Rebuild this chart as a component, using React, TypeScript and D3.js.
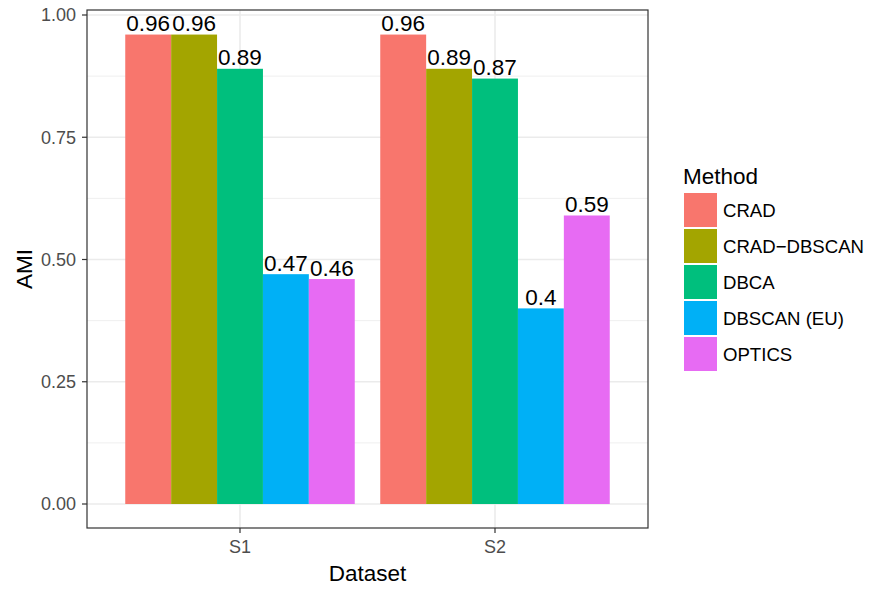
import React from "react";
import * as d3 from "d3";

const datasets = ["S1", "S2"];
const methods = ["CRAD", "CRAD\u2212DBSCAN", "DBCA", "DBSCAN (EU)", "OPTICS"];
const colors = ["#F8766D", "#A3A500", "#00BF7D", "#00B0F6", "#E76BF3"];
const s1Values = [0.96, 0.96, 0.89, 0.47, 0.46];
const s2Values = [0.96, 0.89, 0.87, 0.4, 0.59];
const yTicks = [0, 0.25, 0.5, 0.75, 1.0];
const yMinor = [0.125, 0.375, 0.625, 0.875];

const W = 882;
const H = 592;
const panel = { left: 87, right: 648, top: 10, bottom: 528 };
const FONT = "'Liberation Sans', Arial, Helvetica, sans-serif";

export default function App() {
  const values = [s1Values, s2Values];

  // discrete x with 0.6 expansion on each side
  const unit = (panel.right - panel.left) / 2.2;
  const xCenter = (i: number) => panel.left + (0.6 + i) * unit;
  const groupWidth = 0.9 * unit;
  const xInner = d3
    .scaleBand<number>()
    .domain(d3.range(methods.length))
    .range([-groupWidth / 2, groupWidth / 2])
    .padding(0);

  const y = d3.scaleLinear().domain([0, 1]).range([504, 15]);

  const fmt = (v: number) => String(+v.toFixed(2));

  return (
    <svg width={W} height={H} style={{ position: "absolute", left: 0, top: 0 }} fontFamily={FONT}>
      <rect x={0} y={0} width={W} height={H} fill="#fff" />
      {/* grid */}
      {yMinor.map((t) => (
        <line key={"mn" + t} x1={panel.left} x2={panel.right} y1={y(t)} y2={y(t)} stroke="#ebebeb" strokeWidth={0.8} />
      ))}
      {yTicks.map((t) => (
        <line key={"mj" + t} x1={panel.left} x2={panel.right} y1={y(t)} y2={y(t)} stroke="#ebebeb" strokeWidth={1.6} />
      ))}
      {datasets.map((d, i) => (
        <line key={"vx" + d} x1={xCenter(i)} x2={xCenter(i)} y1={panel.top} y2={panel.bottom} stroke="#ebebeb" strokeWidth={1.6} />
      ))}
      {/* bars */}
      {datasets.map((d, i) =>
        values[i].map((v, j) => (
          <rect
            key={d + j}
            x={xCenter(i) + (xInner(j) as number)}
            y={y(v)}
            width={xInner.bandwidth()}
            height={y(0) - y(v)}
            fill={colors[j]}
          />
        ))
      )}
      {/* bar labels */}
      {datasets.map((d, i) =>
        values[i].map((v, j) => (
          <text
            key={"l" + d + j}
            x={xCenter(i) + (xInner(j) as number) + xInner.bandwidth() / 2}
            y={y(v) - 3.5}
            textAnchor="middle"
            fontSize={22.5}
            fill="#000"
          >
            {fmt(v)}
          </text>
        ))
      )}
      {/* panel border */}
      <rect
        x={panel.left}
        y={panel.top}
        width={panel.right - panel.left}
        height={panel.bottom - panel.top}
        fill="none"
        stroke="#333"
        strokeWidth={1.2}
      />
      {/* y axis */}
      {yTicks.map((t) => (
        <g key={"yt" + t}>
          <line x1={panel.left - 5} x2={panel.left} y1={y(t)} y2={y(t)} stroke="#333" strokeWidth={1.2} />
          <text x={panel.left - 11} y={y(t)} dy="0.35em" textAnchor="end" fontSize={18} fill="#4d4d4d">
            {t.toFixed(2)}
          </text>
        </g>
      ))}
      {/* x axis */}
      {datasets.map((d, i) => (
        <g key={"xt" + d}>
          <line x1={xCenter(i)} x2={xCenter(i)} y1={panel.bottom} y2={panel.bottom + 5} stroke="#333" strokeWidth={1.2} />
          <text x={xCenter(i)} y={553} textAnchor="middle" fontSize={18} fill="#4d4d4d">
            {d}
          </text>
        </g>
      ))}
      <text x={(panel.left + panel.right) / 2} y={581} textAnchor="middle" fontSize={22.5} fill="#000">
        Dataset
      </text>
      <text transform={`translate(32,${(panel.top + panel.bottom) / 2}) rotate(-90)`} textAnchor="middle" fontSize={22.5} fill="#000">
        AMI
      </text>
      {/* legend */}
      <text x={683} y={184} fontSize={22.5} fill="#000">
        Method
      </text>
      {methods.map((m, j) => (
        <g key={"lg" + m}>
          <rect x={684} y={193 + j * 36} width={33} height={34} fill={colors[j]} />
          <text x={723} y={210 + j * 36} dy="0.35em" fontSize={18.6} fill="#000">
            {m}
          </text>
        </g>
      ))}
    </svg>
  );
}
